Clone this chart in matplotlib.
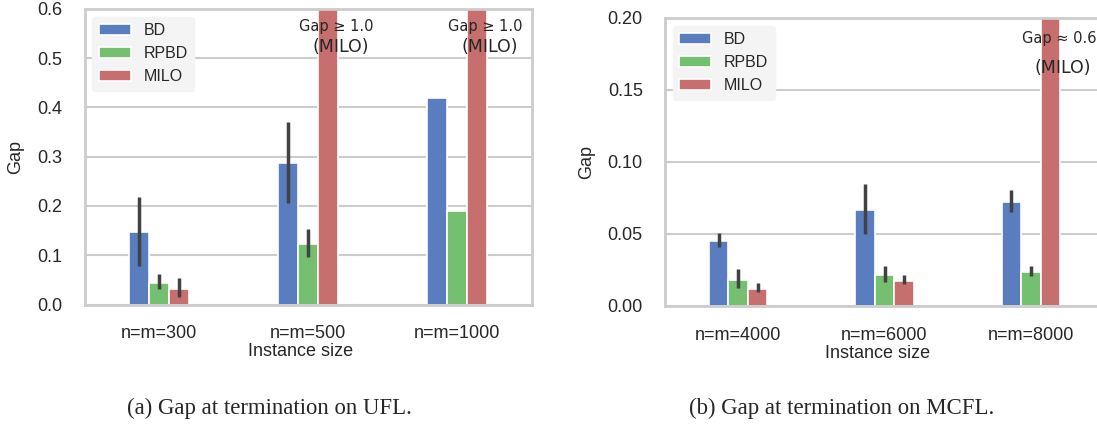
import matplotlib
matplotlib.use('Agg')
import matplotlib.pyplot as plt
import numpy as np
import seaborn as sns

# UFL (left panel)
ufl_sizes = ['n=m=300', 'n=m=500', 'n=m=1000']
ufl_bd = [0.147, 0.287, 0.419]
ufl_bd_lo = [0.079, 0.206, np.nan]
ufl_bd_hi = [0.219, 0.371, np.nan]
ufl_rpbd = [0.044, 0.123, 0.19]
ufl_rpbd_lo = [0.031, 0.097, np.nan]
ufl_rpbd_hi = [0.061, 0.153, np.nan]
ufl_milo = [0.031, 1.0, 1.0]
ufl_milo_lo = [0.015, np.nan, np.nan]
ufl_milo_hi = [0.053, np.nan, np.nan]

# MCFL (right panel)
mcfl_sizes = ['n=m=4000', 'n=m=6000', 'n=m=8000']
mcfl_bd = [0.0451, 0.067, 0.072]
mcfl_bd_lo = [0.0412, 0.050, 0.0655]
mcfl_bd_hi = [0.0505, 0.0846, 0.0805]
mcfl_rpbd = [0.0181, 0.0215, 0.0235]
mcfl_rpbd_lo = [0.0127, 0.0168, 0.0207]
mcfl_rpbd_hi = [0.0255, 0.0276, 0.0278]
mcfl_milo = [0.012, 0.0175, 0.6]
mcfl_milo_lo = [0.0099, 0.015, np.nan]
mcfl_milo_hi = [0.0158, 0.0214, np.nan]

methods = ['BD', 'RPBD', 'MILO']

sns.set_style('whitegrid')
plt.rcParams['font.family'] = ['Liberation Sans', 'DejaVu Sans']

muted = sns.color_palette('muted')
colors = [sns.desaturate(muted[i], 0.75) for i in (0, 2, 3)]


def draw_panel(ax, sizes, series, ylim, yticks, yfmt):
    x = np.arange(len(sizes))
    w = 0.4 / 3
    for i, (name, (vals, lo, hi)) in enumerate(zip(methods, series)):
        pos = x + (i - 1) * w
        ax.bar(pos, vals, w, color=colors[i], edgecolor='white',
               linewidth=1.2, label=name, zorder=2)
        vals = np.array(vals)
        err = np.array([vals - np.array(lo), np.array(hi) - vals])
        ax.errorbar(pos, vals, yerr=err, fmt='none', ecolor='.26',
                    elinewidth=2.5, capsize=0, zorder=3)
    ax.set_xticks(x)
    ax.set_xticklabels(sizes)
    ax.set_xlim(-0.5, 2.5)
    ax.set_ylim(*ylim)
    ax.set_yticks(yticks)
    ax.set_yticklabels([yfmt.format(t) for t in yticks])
    ax.grid(axis='x', visible=False)
    ax.grid(axis='y', color='.8', linewidth=1.5, zorder=0)
    ax.set_axisbelow(True)
    for s in ax.spines.values():
        s.set_color('.8')
        s.set_linewidth(2)
    ax.tick_params(axis='both', labelsize=13, length=0, colors='.15')
    ax.tick_params(axis='y', pad=16)
    ax.tick_params(axis='x', pad=15)
    ax.set_ylabel('Gap', fontsize=13, color='.15')
    ax.set_xlabel('Instance size', fontsize=13, color='.15')
    ax.xaxis.label.set_va('center')
    ax.yaxis.label.set_va('center')
    leg = ax.legend(loc='upper left', fontsize=11.5, frameon=True,
                    facecolor='#f4f4f4', edgecolor='#f4f4f4', framealpha=1)
    for t in leg.get_texts():
        t.set_color('.15')


fig = plt.figure(figsize=(10.97, 4.28), dpi=100)

ax1 = fig.add_axes([84.5 / 1097, 123.5 / 428, 447.3 / 1097, 295.5 / 428])
draw_panel(ax1, ufl_sizes,
           [(ufl_bd, ufl_bd_lo, ufl_bd_hi),
            (ufl_rpbd, ufl_rpbd_lo, ufl_rpbd_hi),
            (ufl_milo, ufl_milo_lo, ufl_milo_hi)],
           (0, 0.6), [0.0, 0.1, 0.2, 0.3, 0.4, 0.5, 0.6], '{:.1f}')
ax1.yaxis.set_label_coords(-0.154, 0.5)
ax1.xaxis.set_label_coords(0.484, -0.160)
for xc in [1.189, 2.186]:
    ax1.text(xc, 0.564, 'Gap ≥ 1.0', ha='center', va='center', fontsize=10.5,
             family='DejaVu Sans', zorder=5)
    ax1.text(xc + 0.03, 0.523, '(MILO)', ha='center', va='center', fontsize=12.5,
             family='DejaVu Sans', zorder=5)

ax2 = fig.add_axes([665 / 1097, 122 / 428, 439 / 1097, 288 / 428])
draw_panel(ax2, mcfl_sizes,
           [(mcfl_bd, mcfl_bd_lo, mcfl_bd_hi),
            (mcfl_rpbd, mcfl_rpbd_lo, mcfl_rpbd_hi),
            (mcfl_milo, mcfl_milo_lo, mcfl_milo_hi)],
           (0, 0.2), [0.0, 0.05, 0.10, 0.15, 0.20], '{:.2f}')
ax2.yaxis.set_label_coords(-0.178, 0.5)
ax2.xaxis.set_label_coords(0.484, -0.164)
ax2.text(2.194, 0.186, 'Gap ≈ 0.6', ha='center', va='center', fontsize=10.5,
         family='DejaVu Sans', zorder=5)
ax2.text(2.216, 0.165, '(MILO)', ha='center', va='center', fontsize=12.5,
         family='DejaVu Sans', zorder=5)

# captions
fig.text(269 / 1097, 1 - 408 / 428, '(a) Gap at termination on UFL.',
         ha='center', va='center', fontsize=16.4, family='Liberation Serif')
fig.text(842 / 1097, 1 - 408 / 428, '(b) Gap at termination on MCFL.',
         ha='center', va='center', fontsize=16.4, family='Liberation Serif')

fig.savefig('out.png', dpi=100)
